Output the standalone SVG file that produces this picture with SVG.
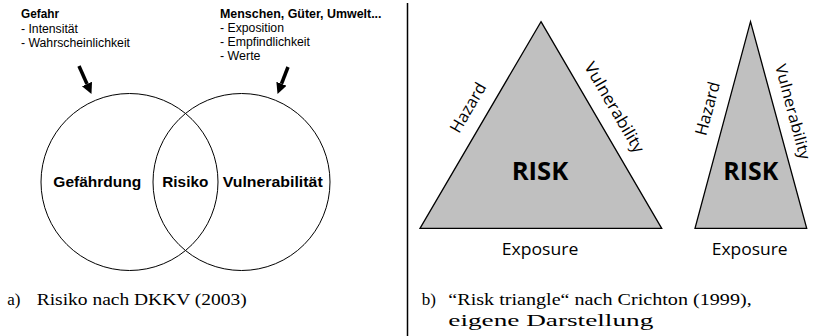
<svg xmlns="http://www.w3.org/2000/svg" width="815" height="336" viewBox="0 0 815 336">
<style>
.sans{font-family:"Liberation Sans",Arial,sans-serif;fill:#000}
.b{font-weight:bold}
.top{font-size:12px}
.mid{font-size:15px;font-weight:bold}
.cap{font-family:"Liberation Serif","Times New Roman",serif;font-size:17px;fill:#000}
.cal{font-family:"Open Sans","Noto Sans",sans-serif;fill:#000}
.lbl{font-size:16.5px}
.risk{font-size:25px;font-weight:bold}
.circ{fill:none;stroke:#000;stroke-width:1}
.tri{fill:#c0c0c0;stroke:#000;stroke-width:1.3;stroke-linejoin:miter}
.arr{stroke:#000;stroke-width:3.5;fill:none}
</style>
<defs>
<marker id="ah" markerUnits="userSpaceOnUse" markerWidth="12" markerHeight="12" refX="0" refY="5.5" orient="auto">
<path d="M0,0 L11,5.5 L0,11 Z" fill="#000"/>
</marker>
</defs>
<g id="divider"><line x1="407.5" y1="3" x2="407.5" y2="336" stroke="#000" stroke-width="1.5"/></g>
<g id="gefahr-text">
<text class="sans b top" x="21" y="18" textLength="38" lengthAdjust="spacingAndGlyphs">Gefahr</text>
<text class="sans top" x="21" y="33" textLength="57" lengthAdjust="spacingAndGlyphs">- Intensität</text>
<text class="sans top" x="21" y="47" textLength="109" lengthAdjust="spacingAndGlyphs">- Wahrscheinlichkeit</text>
</g>
<g id="menschen-text">
<text class="sans b top" x="220" y="18" textLength="161.5" lengthAdjust="spacingAndGlyphs">Menschen, Güter, Umwelt...</text>
<text class="sans top" x="220" y="32" textLength="64" lengthAdjust="spacingAndGlyphs">- Exposition</text>
<text class="sans top" x="220" y="46" textLength="90" lengthAdjust="spacingAndGlyphs">- Empfindlichkeit</text>
<text class="sans top" x="220" y="60" textLength="40.5" lengthAdjust="spacingAndGlyphs">- Werte</text>
</g>
<g id="connectors">
<line class="arr" x1="79" y1="66" x2="87" y2="84" marker-end="url(#ah)"/>
<line class="arr" x1="288" y1="67" x2="281.5" y2="83.75" marker-end="url(#ah)"/>
</g>
<g id="gefaehrdung">
<circle class="circ" cx="129.5" cy="182" r="88.5"/>
<text class="sans mid" x="53.3" y="186.5" textLength="88" lengthAdjust="spacingAndGlyphs">Gefährdung</text>
</g>
<g id="vulnerabilitaet">
<circle class="circ" cx="241.5" cy="182" r="88.5"/>
<text class="sans mid" x="222.7" y="186.5" textLength="100" lengthAdjust="spacingAndGlyphs">Vulnerabilität</text>
</g>
<g id="risiko">
<text class="sans mid" x="162.3" y="186.5" textLength="46" lengthAdjust="spacingAndGlyphs">Risiko</text>
</g>
<g id="caption-a">
<text class="cap" x="7.3" y="305">a)</text>
<text class="cap" x="36.7" y="305" textLength="210" lengthAdjust="spacingAndGlyphs">Risiko nach DKKV (2003)</text>
</g>
<g id="triangle-1">
<polygon class="tri" points="541,21.7 661.7,228.3 420,228.3"/>
<text class="cal risk" x="540" y="179.5" text-anchor="middle" textLength="56.6" lengthAdjust="spacingAndGlyphs">RISK</text>
<text class="cal lbl" x="540" y="255" text-anchor="middle" textLength="76.6" lengthAdjust="spacingAndGlyphs">Exposure</text>
<text class="cal lbl" transform="translate(473,110.5) rotate(-59.6)" x="0" y="0" text-anchor="middle" textLength="55" lengthAdjust="spacingAndGlyphs">Hazard</text>
<text class="cal lbl" transform="translate(609.5,110.3) rotate(59.6)" x="0" y="0" text-anchor="middle" textLength="102" lengthAdjust="spacingAndGlyphs">Vulnerability</text>
</g>
<g id="triangle-2">
<polygon class="tri" points="750.5,21.7 806.7,228.3 695,228.3"/>
<text class="cal risk" x="750.8" y="179.5" text-anchor="middle" textLength="55" lengthAdjust="spacingAndGlyphs">RISK</text>
<text class="cal lbl" x="749.7" y="255" text-anchor="middle" textLength="76" lengthAdjust="spacingAndGlyphs">Exposure</text>
<text class="cal lbl" transform="translate(713,110) rotate(-75.1)" x="0" y="0" text-anchor="middle" textLength="55" lengthAdjust="spacingAndGlyphs">Hazard</text>
<text class="cal" font-size="15.5" transform="translate(787.5,113) rotate(75.1)" x="0" y="0" text-anchor="middle" textLength="98" lengthAdjust="spacingAndGlyphs">Vulnerability</text>
</g>
<g id="caption-b">
<text class="cap" x="421.7" y="305">b)</text>
<text class="cap" x="448.3" y="305" textLength="303.4" lengthAdjust="spacingAndGlyphs">“Risk triangle“ nach Crichton (1999),</text>
<text class="cap" x="448.3" y="326" textLength="205" lengthAdjust="spacingAndGlyphs">eigene Darstellung</text>
</g>
</svg>
